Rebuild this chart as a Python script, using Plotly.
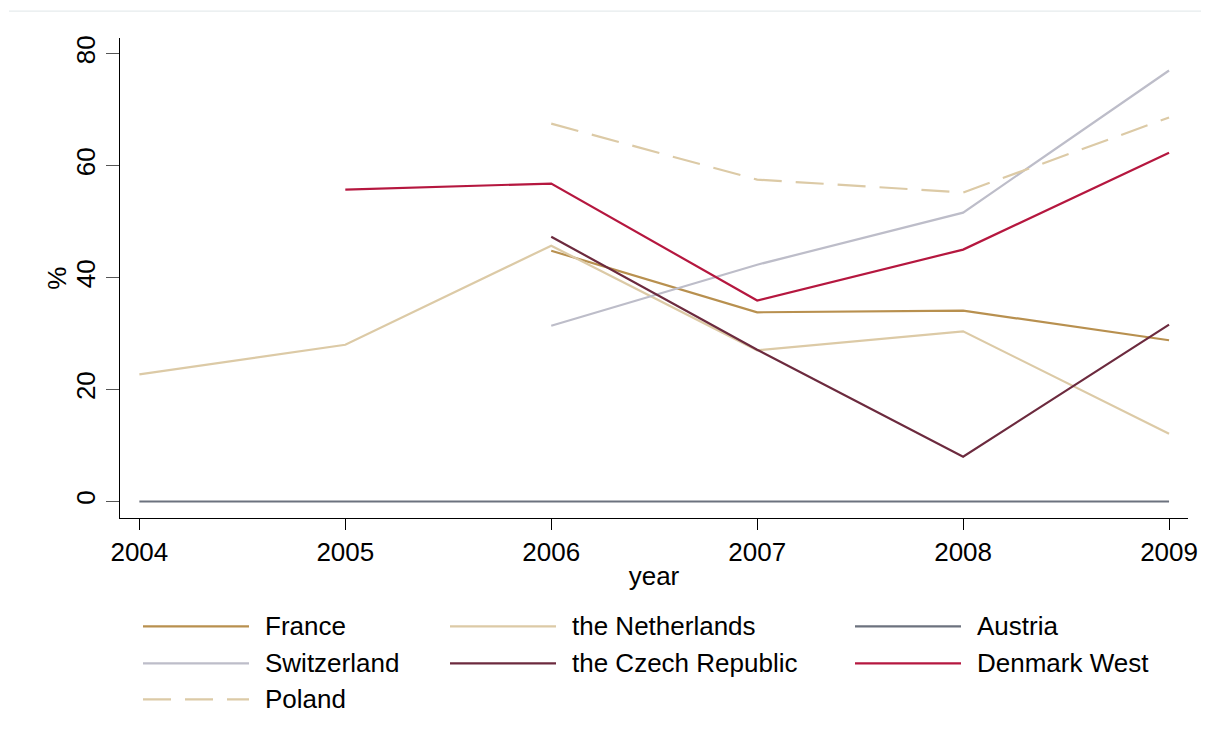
import plotly.graph_objects as go

years = [2004, 2005, 2006, 2007, 2008, 2009]

france = [None, None, 44.8, 33.8, 34.1, 28.8]
netherlands = [22.7, 28.0, 45.7, 27.0, 30.4, 12.1]
austria = [0, 0, 0, 0, 0, 0]
switzerland = [None, None, 31.4, 42.3, 51.6, 77.0]
czech = [None, None, 47.3, 27.1, 8.0, 31.6]
denmark = [None, 55.7, 56.8, 35.9, 45.0, 62.3]
poland = [None, None, 67.5, 57.5, 55.2, 68.6]

series = [
    ("France", france, "#b8904f", "solid"),
    ("the Netherlands", netherlands, "#dccaa6", "solid"),
    ("Austria", austria, "#6c727e", "solid"),
    ("Switzerland", switzerland, "#bdbdc9", "solid"),
    ("the Czech Republic", czech, "#6c2a3e", "solid"),
    ("Denmark West", denmark, "#b5173f", "solid"),
    ("Poland", poland, "#dccaa6", "28px,14px"),
]

FONT = "Liberation Sans, Arial, sans-serif"
# page has an 8px body margin, so the figure is a bit smaller than the window
OFF = 8
W, H = 1209 - 2 * OFF, 751 - 2 * OFF
PLOT_L, PLOT_R, PLOT_T, PLOT_B = 120, 1188, 38, 518.5  # page pixels
L = PLOT_L - OFF
R = W - (PLOT_R - OFF)
T = PLOT_T - OFF
B = H - (PLOT_B - OFF)
PW, PH = PLOT_R - PLOT_L, PLOT_B - PLOT_T


def px_x(x):
    return (x - PLOT_L) / PW


def px_y(y):
    return (PLOT_B - y) / PH


fig = go.Figure()
for name, vals, color, dash in series:
    fig.add_trace(
        go.Scatter(
            x=years,
            y=vals,
            name=name,
            mode="lines",
            line=dict(color=color, width=2.2, dash=dash),
            connectgaps=False,
            showlegend=False,
        )
    )

# legend drawn by hand, three columns like the original
col_line_x = [143, 450, 855]
row_y = [627, 664, 700]
for i, (name, vals, color, dash) in enumerate(series):
    r, c = divmod(i, 3)
    x0 = col_line_x[c]
    fig.add_shape(
        type="line",
        xref="paper",
        yref="paper",
        x0=px_x(x0),
        x1=px_x(x0 + 106),
        y0=px_y(row_y[r]),
        y1=px_y(row_y[r]),
        line=dict(color=color, width=2.2, dash=dash),
    )
    fig.add_annotation(
        text=name,
        xref="paper",
        yref="paper",
        x=px_x(x0 + 120),
        y=px_y(row_y[r]),
        xanchor="left",
        yanchor="middle",
        showarrow=False,
        font=dict(size=26, color="black", family=FONT),
    )

# y axis title, placed by hand (plotly puts it too far out)
fig.add_annotation(
    text="%",
    xref="paper",
    yref="paper",
    x=px_x(57),
    y=px_y(279),
    xanchor="center",
    yanchor="middle",
    textangle=-90,
    showarrow=False,
    font=dict(size=26, color="black", family=FONT),
)

# faint frame line at the very top
fig.add_shape(
    type="line",
    xref="paper",
    yref="paper",
    x0=px_x(9),
    x1=px_x(1209),
    y0=px_y(11),
    y1=px_y(11),
    line=dict(color="#e6ebed", width=1.2),
)

fig.update_layout(
    width=W,
    height=H,
    margin=dict(l=L, r=R, t=T, b=B),
    paper_bgcolor="white",
    plot_bgcolor="white",
    font=dict(family=FONT, size=26, color="black"),
    showlegend=False,
    xaxis=dict(
        range=[2003.906, 2009.092],
        tickvals=years,
        ticks="outside",
        ticklen=11,
        tickwidth=1.3,
        tickcolor="black",
        showline=True,
        linecolor="black",
        linewidth=1.3,
        showgrid=False,
        zeroline=False,
        automargin=False,
        tickfont=dict(size=26),
        title=dict(text="year", font=dict(size=26), standoff=0),
    ),
    yaxis=dict(
        range=[-2.95, 82.8],
        tickvals=[0, 20, 40, 60, 80],
        tickangle=-90,
        ticks="outside",
        ticklen=13,
        tickwidth=1.3,
        tickcolor="#555555",
        showline=True,
        linecolor="black",
        linewidth=1.3,
        showgrid=False,
        zeroline=False,
        automargin=False,
        tickfont=dict(size=26),
    ),
)

fig.write_html("out.html")
